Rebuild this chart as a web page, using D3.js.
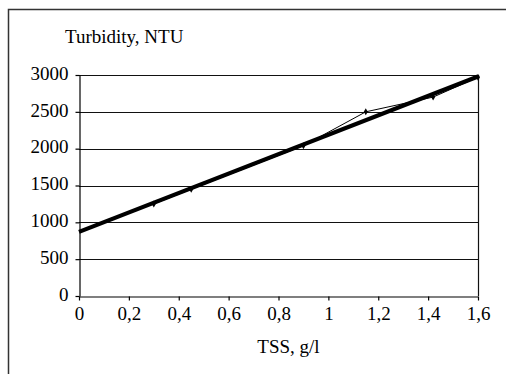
<!DOCTYPE html>
<html>
<head>
<meta charset="utf-8">
<script src="https://cdn.jsdelivr.net/npm/d3@7"></script>
<style>
  body { margin: 0; background: #fff; }
  svg { display: block; }
  svg text { font-family: 'Liberation Serif', serif; }
</style>
</head>
<body>
<div id="chart"></div>
<script>
// measured TSS (g/l) vs turbidity (NTU)
const tss = [0.3, 0.45, 0.9, 1.15, 1.42, 1.6];
const turbidity = [1250, 1450, 2040, 2500, 2700, 2970];

// fitted line
const trendTss = [0, 1.6];
const trendTurbidity = [870, 2980];

const xTicks = [0, 0.2, 0.4, 0.6, 0.8, 1, 1.2, 1.4, 1.6];
const yTicks = [0, 500, 1000, 1500, 2000, 2500, 3000];

const W = 506, H = 374;

const svg = d3.select('#chart').append('svg')
  .attr('width', W)
  .attr('height', H);

svg.append('rect').attr('width', W).attr('height', H).attr('fill', '#fff');

// outer frame (cut off at right and bottom)
svg.append('rect')
  .attr('x', 8.5).attr('y', 9.5)
  .attr('width', W).attr('height', H)
  .attr('fill', 'none')
  .attr('stroke', '#333')
  .attr('stroke-width', 1.5);

const x = d3.scaleLinear().domain([0, 1.6]).range([79, 478]);
const y = d3.scaleLinear().domain([0, 3000]).range([296, 75]);

// gridlines
svg.append('g')
  .selectAll('line')
  .data(yTicks.filter(d => d > 0))
  .join('line')
  .attr('x1', x(0)).attr('x2', x(1.6))
  .attr('y1', d => Math.round(y(d)) + 0.5)
  .attr('y2', d => Math.round(y(d)) + 0.5)
  .attr('stroke', '#111')
  .attr('stroke-width', 1.2);

// right edge of plot area
svg.append('line')
  .attr('x1', Math.round(x(1.6)) + 0.5).attr('x2', Math.round(x(1.6)) + 0.5)
  .attr('y1', y(3000)).attr('y2', y(0))
  .attr('stroke', '#111')
  .attr('stroke-width', 1.2);

const fmt = d => String(d).replace('.', ',');

const xAxis = svg.append('g')
  .attr('transform', 'translate(0,' + (Math.round(y(0)) + 0.5) + ')')
  .call(d3.axisBottom(x).tickValues(xTicks).tickFormat(fmt)
    .tickSize(4).tickSizeOuter(0).tickPadding(6));

const yAxis = svg.append('g')
  .attr('transform', 'translate(' + (Math.round(x(0)) + 0.5) + ',0)')
  .call(d3.axisLeft(y).tickValues(yTicks).tickFormat(d3.format('d'))
    .tickSize(4).tickSizeOuter(0).tickPadding(7));

[xAxis, yAxis].forEach(a => {
  a.attr('font-family', null).attr('font-size', 19);
  a.selectAll('path, line').attr('stroke', '#000').attr('stroke-width', 1.2);
  a.selectAll('text').attr('fill', '#000');
});
yAxis.selectAll('text').attr('dy', '0.22em');

// thin data line with small markers
const line = d3.line()
  .x(i => x(tss[i]))
  .y(i => y(turbidity[i]));

svg.append('path')
  .datum(d3.range(tss.length))
  .attr('fill', 'none')
  .attr('stroke', '#000')
  .attr('stroke-width', 1)
  .attr('d', line);

svg.append('g')
  .selectAll('path')
  .data(d3.range(tss.length))
  .join('path')
  .attr('transform', i => 'translate(' + x(tss[i]) + ',' + y(turbidity[i]) + ')')
  .attr('d', d3.symbol(d3.symbolDiamond, 14))
  .attr('fill', '#000');

// thick fitted line
const trend = d3.line()
  .x(i => x(trendTss[i]))
  .y(i => y(trendTurbidity[i]));

svg.append('path')
  .datum(d3.range(trendTss.length))
  .attr('fill', 'none')
  .attr('stroke', '#000')
  .attr('stroke-width', 4.2)
  .attr('d', trend);

// titles
svg.append('text')
  .attr('x', 65).attr('y', 43)
  .attr('font-size', 19)
  .text('Turbidity, NTU');

svg.append('text')
  .attr('x', 288.5).attr('y', 353)
  .attr('text-anchor', 'middle')
  .attr('font-size', 19)
  .text('TSS, g/l');
</script>
</body>
</html>
